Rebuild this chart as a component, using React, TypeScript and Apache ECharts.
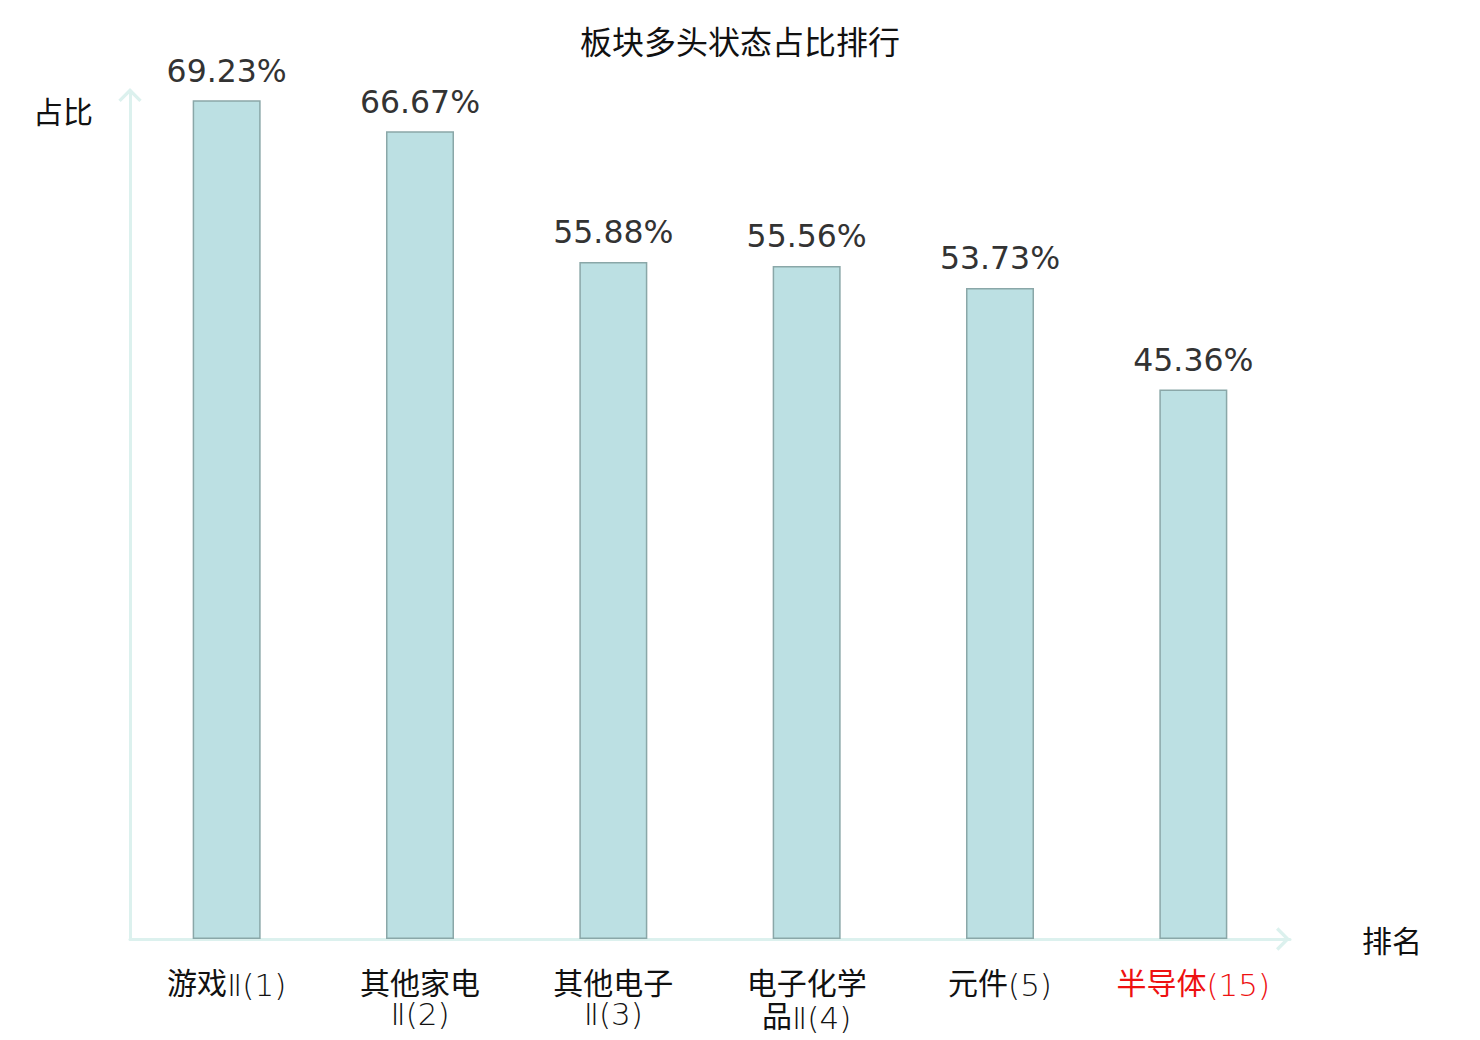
import React, { useEffect, useRef } from "react";
import * as echarts from "echarts";

const TITLE = "板块多头状态占比排行";
const categories = ["游戏Ⅱ(1)", "其他家电\nⅡ(2)", "其他电子\nⅡ(3)", "电子化学\n品Ⅱ(4)", "元件(5)", "半导体(15)"];
const highlighted = [false, false, false, false, false, true];
const values = [69.23, 66.67, 55.88, 55.56, 53.73, 45.36];
const yName = "占比";
const xName = "排名";

const CJK = "'Noto Sans CJK SC', 'DejaVu Sans', sans-serif";
const LATIN = "'DejaVu Sans', 'Noto Sans CJK SC', sans-serif";
const AXIS_COLOR = "#dcf1ee";
const CHEVRON = "path://M0,0 L10,10 L8,12 L0,4 L-8,12 L-10,10 Z";

function richLabel(value: string): string {
  return value
    .split("\n")
    .map((line) =>
      line.replace(/([\u4e00-\u9fff]+)|([^\u4e00-\u9fff]+)/g, (m, cjk) =>
        cjk ? `{c|${m}}` : `{t|${m}}`
      )
    )
    .join("\n");
}

export default function App() {
  const ref = useRef<HTMLDivElement>(null);
  useEffect(() => {
    document.body.style.margin = "0";
    const chart = echarts.init(ref.current!, null, { renderer: "svg" });
    chart.setOption({
      animation: false,
      backgroundColor: "#ffffff",
      title: {
        text: TITLE,
        left: "center",
        top: 19,
        textStyle: { fontFamily: CJK, fontSize: 32, fontWeight: "normal", color: "#111" },
      },
      grid: { left: 130, right: 190, top: 91, bottom: 101, containLabel: false },
      xAxis: {
        type: "category",
        data: categories.map((c, i) => ({
          value: c,
          textStyle: highlighted[i] ? { color: "#ee1111" } : {},
        })),
        name: xName,
        nameLocation: "end",
        nameGap: 72,
        nameTextStyle: { fontFamily: CJK, fontSize: 30, color: "#111", verticalAlign: "middle" },
        axisLine: {
          show: true,
          lineStyle: { color: AXIS_COLOR, width: 3 },
          symbol: ["none", CHEVRON],
          symbolSize: [24, 14],
          symbolOffset: [0, -7],
        },
        axisTick: { show: false },
        axisLabel: {
          interval: 0,
          margin: 25,
          fontFamily: CJK,
          fontSize: 30,
          lineHeight: 33,
          color: "#111",
          formatter: (v: string) => richLabel(v),
          rich: {
            c: { fontFamily: CJK, fontSize: 30, lineHeight: 33, fontWeight: "normal" },
            t: { fontFamily: LATIN, fontSize: 31, lineHeight: 25, padding: [8, 0, 0, 0], fontWeight: 200 },
          },
        },
        splitLine: { show: false },
      },
      yAxis: {
        type: "value",
        min: 0,
        max: 70,
        name: yName,
        nameLocation: "end",
        nameGap: -19,
        nameTextStyle: {
          fontFamily: CJK,
          fontSize: 30,
          color: "#111",
          align: "right",
          verticalAlign: "middle",
          padding: [0, 37, 0, 0],
        },
        axisLine: {
          show: true,
          lineStyle: { color: AXIS_COLOR, width: 3 },
          symbol: ["none", CHEVRON],
          symbolSize: [24, 14],
          symbolOffset: [0, -4],
        },
        axisTick: { show: false },
        axisLabel: { show: false },
        splitLine: { show: false },
      },
      series: [
        {
          type: "bar",
          data: values,
          barWidth: 68,
          itemStyle: { color: "#bce0e3", borderColor: "#8aa7a8", borderWidth: 1.5 },
          label: {
            show: true,
            position: "top",
            distance: 14,
            fontFamily: LATIN,
            fontSize: 31.5,
            color: "#333",
            formatter: (p: any) => Number(p.value).toFixed(2) + "%",
          },
        },
      ],
    });
    return () => chart.dispose();
  }, []);
  return <div ref={ref} style={{ width: 1480, height: 1040 }} />;
}
